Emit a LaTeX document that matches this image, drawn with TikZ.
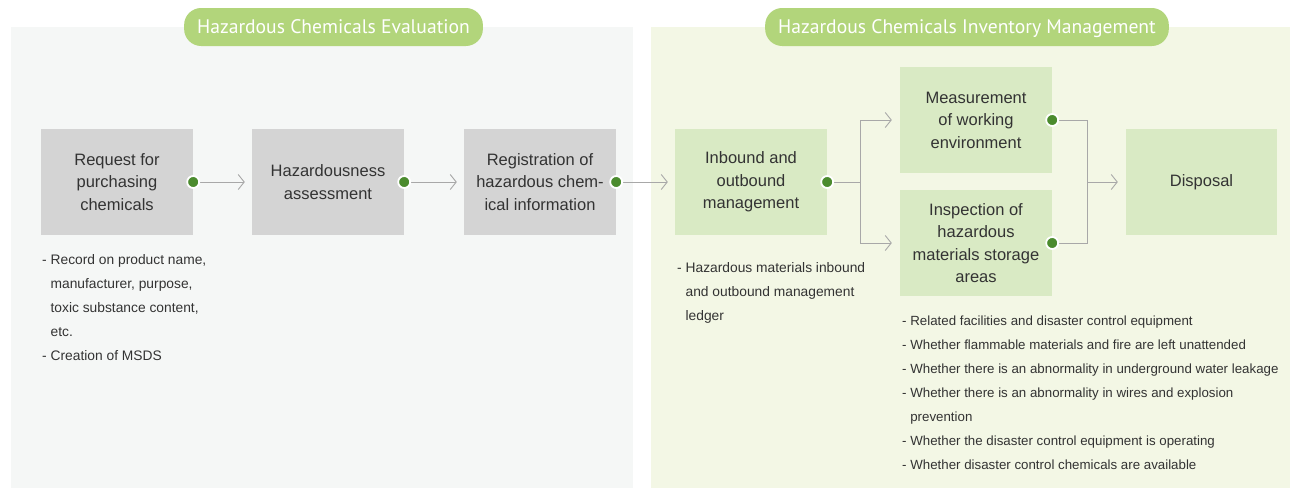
\documentclass[tikz,border=0pt]{standalone}
\usepackage{fontspec}
\setmainfont{Liberation Sans}
\newfontfamily\titlefont{PT Sans}
\usetikzlibrary{arrows.meta}
\definecolor{panelL}{HTML}{F5F7F6}
\definecolor{panelR}{HTML}{F3F7E5}
\definecolor{pill}{HTML}{B2D57B}
\definecolor{grayBox}{HTML}{D4D4D4}
\definecolor{greenBox}{HTML}{D9EAC4}
\definecolor{dotGreen}{HTML}{4B8B2E}
\definecolor{ink}{HTML}{333333}
\definecolor{lineGray}{HTML}{A8A8A8}
\newcommand{\cont}{\phantom{-\ }}
\tikzset{
  x=1pt, y=-1pt,
  pilltag/.style={fill=pill, text=white, rounded corners=17pt, minimum height=38pt,
    text height=13.8pt, text depth=0pt,
    inner xsep=13pt, font=\titlefont\fontsize{19.6}{21}\selectfont},
  stepbox/.style={minimum width=152pt, minimum height=106pt, inner sep=0pt,
    align=center, text=ink, font=\fontsize{16.5}{22.6}\selectfont},
  graystep/.style={stepbox, fill=grayBox},
  greenstep/.style={stepbox, fill=greenBox},
  notes/.style={anchor=north west, inner sep=0pt, align=left, text=ink,
    font=\fontsize{13.8}{24}\selectfont},
  conn/.style={draw=lineGray, line width=0.9pt},
  arr/.style={conn, -{Straight Barb[length=6pt,width=15pt,line width=0.9pt]}},
  portdot/.style={circle, fill=dotGreen, draw=white, line width=1.8pt, minimum size=12pt, inner sep=0pt}
}
\begin{document}
\begin{tikzpicture}
\useasboundingbox (0,0) rectangle (1290,488);
\fill[white] (0,0) rectangle (1290,488);

% background panels
\fill[panelL] (11,27) rectangle (633,488);
\fill[panelR] (651,27) rectangle (1290,488);

% section titles
\node[pilltag] (tEval) at (333.5,27) {Hazardous Chemicals Evaluation};
\node[pilltag] (tInv) at (967,27) {Hazardous Chemicals Inventory Management};

% evaluation steps
\node[graystep] (req) at (117,182) {Request for\\purchasing\\chemicals};
\node[graystep] (haz) at (328,182) {Hazardousness\\assessment};
\node[graystep] (reg) at (540,182) {Registration of\\hazardous chem-\\ical information};

% inventory steps
\node[greenstep] (inb) at (751,182) {Inbound and\\outbound\\management};
\node[greenstep] (meas) at (976,120) {Measurement\\of working\\environment};
\node[greenstep] (insp) at (976,243) {Inspection of\\hazardous\\materials storage\\areas};
\node[greenstep, minimum width=151pt] (disp) at (1201.5,182) {Disposal};

% connectors
\draw[arr, shorten >=7pt] (req.east) -- (haz.west);
\draw[arr, shorten >=7pt] (haz.east) -- (reg.west);
\draw[arr, shorten >=7pt] (reg.east) -- (inb.west);

\coordinate (split) at (860,182);
\coordinate (join) at (1087,182);
\draw[conn] (inb.east) -- (split);
\draw[arr] (split) |- ([xshift=-8pt]meas.west);
\draw[arr] (split) |- ([xshift=-8pt]insp.west);
\draw[conn] (meas.east) -| (join);
\draw[conn] (insp.east) -| (join);
\draw[arr, shorten >=8pt] (join) -- (disp.west);

% output ports
\foreach \b in {req,haz,reg,inb,meas,insp}
  \node[portdot] at (\b.east) {};

% notes
\node[notes] (noteReq) at (42,254) {- Record on product name,\\ \cont manufacturer, purpose,\\ \cont toxic substance content,\\ \cont etc.\\- Creation of MSDS};
\node[notes] (noteInb) at (677,262) {- Hazardous materials inbound\\ \cont and outbound management\\ \cont ledger};
\node[notes, font=\fontsize{13.3}{24}\selectfont] (noteInsp) at (902,316) {- Related facilities and disaster control equipment\\- Whether flammable materials and fire are left unattended\\- Whether there is an abnormality in underground water leakage\\- Whether there is an abnormality in wires and explosion\\ \cont prevention\\- Whether the disaster control equipment is operating\\- Whether disaster control chemicals are available};
\end{tikzpicture}
\end{document}
